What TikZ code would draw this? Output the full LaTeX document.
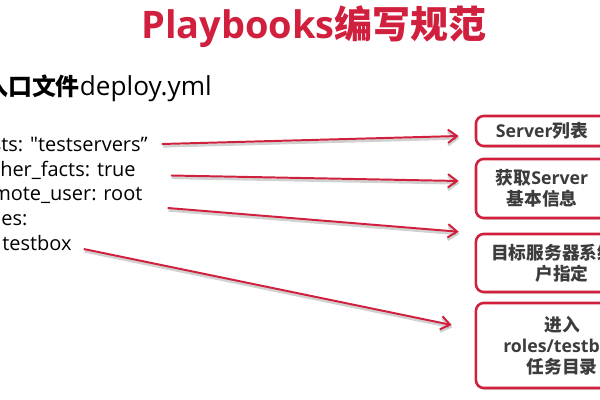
\documentclass[tikz,border=0pt]{standalone}
\usepackage{fontspec}
\setmainfont{Open Sans}
\newfontfamily\cjk{Noto Sans CJK SC}
\newfontfamily\codefont{Open Sans}
\usetikzlibrary{arrows.meta,shadows}
\definecolor{pbred}{RGB}{208,32,62}
\definecolor{pbgray}{RGB}{60,60,60}
\newcommand{\zh}[1]{{\cjk #1}}

\begin{document}
\begin{tikzpicture}[x=0.025cm,y=-0.025cm,
code/.style={anchor=base west,inner sep=0pt,font=\codefont\fontsize{14.2}{17}\selectfont},
pbbox/.style={draw=pbred,line width=1.8pt,rounded corners=5.5pt,fill=white,align=center,text=pbgray,
  font=\bfseries\fontsize{12.6}{15}\selectfont,drop shadow={shadow xshift=1pt,shadow yshift=-1.5pt,opacity=0.25}},
pbarrow/.style={pbred,line width=1.4pt,-{Straight Barb[length=6.5pt,width=9.5pt]},
  preaction={draw=black,opacity=0.18,line width=2pt,transform canvas={shift={(0.6pt,-1.6pt)}}}}]
\useasboundingbox(0,0)rectangle(600,400);
\clip(0,0)rectangle(600,400);
\node[anchor=base,inner sep=0pt,text=pbred,font=\bfseries\fontsize{27}{31}\selectfont](title)at(314,39){Playbooks\zh{编写规范}};
\node[anchor=base west,inner sep=0pt,font=\fontsize{18.6}{22}\selectfont](entry)at(-16,96){\zh{\bfseries\fontsize{17}{22}\selectfont 入口文件}deploy.yml};
\node[code](hosts)at(1,152){\llap{hos}ts: "testservers”};
\node[code](facts)at(0,176.5){\llap{gat}her\_facts: true};
\node[code](user)at(-8,201){\llap{re}mote\_user: root};
\node[code](roles)at(1,226){\llap{rol}es:};
\node[code](testbox)at(2,251){\llap{- }testbox};
\node[pbbox,minimum width=3.3cm,minimum height=0.75cm](srvlist)at(542,131){Server\zh{列表}};
\node[pbbox,minimum width=3.3cm,minimum height=1.475cm](srvinfo)at(542,188.5){\zh{获取}Server\\\zh{基本信息}};
\node[pbbox,minimum width=4.3cm,minimum height=1.45cm](sysuser)at(562,263){\zh{目标服务器系统用}\\\zh{户指定}};
\node[pbbox,minimum width=4.3cm,minimum height=2.125cm](roledir)at(562,345.5){\zh{进入}\\roles/testbox\\\zh{任务目录}};
\draw[pbarrow]([shift={(14,-8)}]hosts.base east)--([shift={(-16,5)}]srvlist.west);
\draw[pbarrow]([shift={(35,-1)}]facts.base east)--([shift={(-16,-7.5)}]srvinfo.west);
\draw[pbarrow]([shift={(25,7)}]user.base east)--([shift={(-16,-1)}]sysuser.north west);
\draw[pbarrow]([shift={(12,-2)}]testbox.base east)--([shift={(-23,-20.5)}]roledir.west);
\end{tikzpicture}
\end{document}
